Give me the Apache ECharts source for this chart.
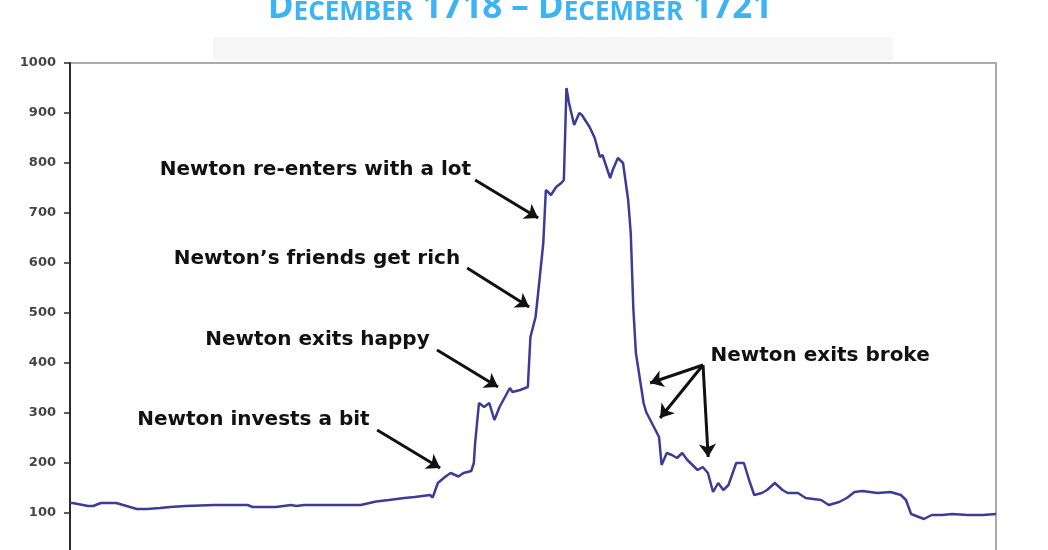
<!DOCTYPE html>
<html>
<head>
<meta charset="utf-8">
<script src="https://cdn.jsdelivr.net/npm/echarts@6/dist/echarts.min.js"></script>
<style>
html,body{margin:0;padding:0;background:#fff;}
#chart{width:1048px;height:550px;}
</style>
</head>
<body>
<div id="chart"></div>
<script>
// Months since December 1718
var months = [0.0,0.1,0.7,0.9,1.2,1.8,2.2,2.6,3.0,3.5,3.9,4.5,5.6,6.9,7.1,8.0,8.6,8.8,9.1,11.3,
  11.9,12.4,13.0,13.4,14.0,14.1,14.3,14.6,14.8,15.1,15.3,15.6,15.7,15.75,15.9,16.1,16.3,16.5,16.7,17.1,
  17.2,17.5,17.8,17.9,18.1,18.2,18.4,18.5,18.7,18.9,19.1,19.2,19.3,19.4,19.6,19.8,19.9,20.2,20.4,20.6,
  20.7,21.0,21.1,21.3,21.5,21.7,21.8,21.9,22.0,22.3,22.4,22.7,22.9,23.0,23.2,23.4,23.6,23.8,24.0,24.4,
  24.6,24.8,25.0,25.2,25.4,25.6,25.9,26.2,26.4,26.6,26.9,27.1,27.4,27.7,27.9,28.3,28.6,29.2,29.5,29.9,
  30.2,30.5,30.8,31.4,31.9,32.3,32.5,32.7,33.0,33.2,33.5,33.9,34.3,34.9,35.5,36.0];
// South Sea Company share price
var prices = [120,120,114,114,120,120,114,108,108,110,112,114,116,116,112,112,116,114,116,116,
  123,126,130,132,136,131,160,173,180,173,180,184,200,240,320,312,320,286,312,350,
  342,346,352,452,492,540,640,746,736,752,760,766,950,920,876,900,896,872,850,812,
  816,770,786,810,800,726,660,510,420,320,302,272,252,196,220,216,210,220,206,186,
  192,180,142,160,146,156,200,200,166,136,140,146,160,146,140,140,130,126,116,122,
  130,142,144,140,142,136,126,98,92,88,96,96,98,96,96,98];

var yTicks = [100,200,300,400,500,600,700,800,900,1000];

var noteTexts = ["Newton re-enters with a lot","Newton\u2019s friends get rich","Newton exits happy","Newton invests a bit","Newton exits broke"];
var noteMonths = [9.54,9.60,9.62,7.13,29.16];
var noteValues = [786,608,446,286,414];

// arrows: [fromMonth, fromValue] -> [toMonth, toValue]
var arrowFrom = [[15.75,766],[15.44,590],[14.27,426],[11.94,266],[24.61,396],[24.61,396],[24.61,396]];
var arrowTo   = [[18.2,690],[17.85,512],[16.64,352],[14.39,190],[22.55,360],[22.94,290],[24.81,212]];

var chart = echarts.init(document.getElementById('chart'), null, {renderer:'canvas'});

var lineData = months.map(function(m,i){return [m, prices[i]];});
var notesData = noteTexts.map(function(t,i){return {coord:[noteMonths[i], noteValues[i]], name:t};});
var arrows = arrowFrom.map(function(f,i){return [{coord:f},{coord:arrowTo[i]}];});

chart.setOption({
  animation:false,
  backgroundColor:'#ffffff',
  graphic:[
    {type:'rect', shape:{x:213,y:37,width:680,height:23}, style:{fill:'#f6f6f6'}, z:0},
    {type:'text', x:520, y:26, style:{
      text:'{b|D}{s|ECEMBER}{b| 1718 \u2013 D}{s|ECEMBER}{b| 1721}',
      align:'center', verticalAlign:'bottom',
      rich:{
        b:{fontFamily:'Open Sans',fontWeight:'bold',fontSize:35,fill:'#3cb4f4',color:'#3cb4f4',verticalAlign:'bottom'},
        s:{fontFamily:'Open Sans',fontWeight:'bold',fontSize:26,fill:'#3cb4f4',color:'#3cb4f4',verticalAlign:'bottom'}
      }
    }, z:10}
  ],
  grid:{left:70,right:52,top:63,height:500,outerBoundsMode:'none',containLabel:false,
    show:true,borderColor:'#ababab',borderWidth:2,backgroundColor:'rgba(0,0,0,0)'},
  xAxis:{type:'value',min:0,max:36,axisLabel:{show:false},axisTick:{show:false},splitLine:{show:false},
    axisLine:{show:true,lineStyle:{color:'#222',width:2}}},
  yAxis:{type:'value',min:0,max:1000,interval:100,
    axisLine:{show:true,lineStyle:{color:'#2a2a2a',width:2}},
    axisTick:{show:true,length:6,lineStyle:{color:'#2a2a2a',width:1.5}},
    splitLine:{show:false},
    axisLabel:{margin:14,fontFamily:'DejaVu Sans',fontWeight:'bold',fontSize:13,color:'#444',
      formatter:function(v){return yTicks.indexOf(v)>=0 ? String(v) : '';}}},
  series:[
    {type:'line',data:lineData,showSymbol:false,symbol:'none',
      lineStyle:{color:'#3c3c98',width:2.5},z:3,
      markLine:{silent:true,symbol:['none','arrow'],symbolSize:13,
        lineStyle:{color:'#111',width:3,type:'solid'},label:{show:false},
        emphasis:{disabled:true},data:arrows},
      markPoint:{silent:true,symbol:'circle',symbolSize:1,itemStyle:{color:'rgba(255,255,255,0)'},
        label:{show:true,position:'inside',formatter:'{b}',
          fontFamily:'DejaVu Sans',fontWeight:'bold',fontSize:20,color:'#111'},
        data:notesData}}
  ]
});
</script>
</body>
</html>
